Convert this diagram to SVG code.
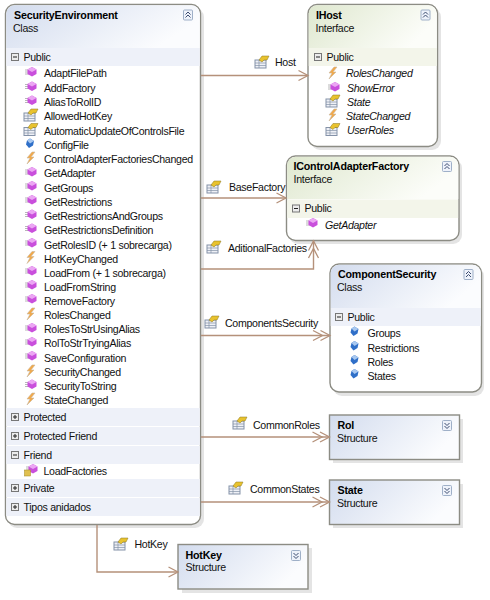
<svg xmlns="http://www.w3.org/2000/svg" width="490" height="600" viewBox="0 0 490 600">
<style>
text{font-family:"Liberation Sans",Arial,sans-serif;font-size:10.6px;letter-spacing:-.3px;fill:#111}
.t{font-family:"Liberation Sans",Arial,sans-serif;font-weight:bold;font-size:10.7px;letter-spacing:-.2px;fill:#000}
.i{font-style:italic}
.box{fill:#fff;stroke:#8c8c84;stroke-width:1.4}
.shadow{fill:#d8d8d8;opacity:.7}
.bandB{fill:#eef1f9}
.bandG{fill:#f3f5ea}
.c{fill:none;stroke:#b5917a;stroke-width:1.4}
.btn{fill:#eef2fa;stroke:#9fb0c8;stroke-width:1}
.chev{fill:none;stroke:#3c4c70;stroke-width:1}
.pm{fill:#ececec;stroke:#777;stroke-width:1}
.pmg{stroke:#222;stroke-width:1;fill:none}
.ah{fill:none;stroke:#b5917a;stroke-width:1.300}
</style>
<defs>
<linearGradient id="gb" x1="0" y1="0" x2="1" y2="0.35"><stop offset="0" stop-color="#d3dcee"/><stop offset="1" stop-color="#fbfcfe"/></linearGradient>
<linearGradient id="gg" x1="0" y1="0" x2="1" y2="0.35"><stop offset="0" stop-color="#dfe8cf"/><stop offset="1" stop-color="#fcfdf9"/></linearGradient>
<path id="arrowOne" class="ah" d="M -9.500 -5 L 0 0 L -9.500 5"/>
<path id="arrowTwo" class="ah" d="M -9.500 -5 L 0 0 L -9.500 5 M -17 -5 L -7.500 0 L -17 5"/>
<g id="m"><path d="M-7-2H-3M-7 0H-3M-7 2H-3" stroke="#b8b8b8" stroke-width="1"/><path d="M0-5L4.500-2.500V2L0 4.500L-4.500 2V-2.500Z" fill="#c94fdc"/><path d="M0-5L4.500-2.500L0 0L-4.500-2.500Z" fill="#eba6f3"/></g>
<g id="p"><rect x="-7" y="-2" width="11" height="8" fill="#eef0f6" stroke="#8492a8"/><path d="M-7 1H4M-7 3.500H4M-3-2V6" stroke="#8492a8" stroke-width=".7"/><path d="M-3-2L0-6H7L5-2H2L0 0Z" fill="#e8c22e" stroke="#8a7620" stroke-width=".5"/></g>
<g id="e"><path d="M2-6L-3 0H0L-3 6L4-1H1L5-6Z" fill="#f2a848" stroke="#c9b8a0" stroke-width=".6"/></g>
<g id="f"><path d="M0-5L4-2.500L3 2L-1 4.500L-4 1L-3-3Z" fill="#2f6fc8"/><path d="M0-5L4-2.500L0 0L-3-3Z" fill="#a8c8f0"/></g>
<g id="pm"><rect x="-3.500" y="-3.500" width="7" height="7" class="pm"/><path d="M-2 0H2" class="pmg"/></g>
<g id="pp"><rect x="-3.500" y="-3.500" width="7" height="7" class="pm"/><path d="M-2 0H2M0-2V2" class="pmg"/></g>
<g id="up"><rect x="-4.500" y="-5" width="9" height="10" rx="1" class="btn"/><path d="M-2.500-.5L0-3L2.500-.5M-2.500 2.500L0 0L2.500 2.500" class="chev"/></g>
<g id="dn"><rect x="-4.500" y="-5" width="9" height="10" rx="1" class="btn"/><path d="M-2.500-2.500L0 0L2.500-2.500M-2.500 .5L0 3L2.500 .5" class="chev"/></g>
</defs>
<rect width="490" height="600" fill="#fff"/>

<g id="SecurityEnvironment">
<rect class="shadow" x="8" y="8" width="196" height="520" rx="9"/>
<rect class="box" x="5.500" y="4.500" width="195" height="520" rx="9"/>
<path d="M6.200 48V13.500A8.500 8.500 0 0 1 14.500 5.200H191.500A8.500 8.500 0 0 1 199.800 13.500V48Z" fill="url(#gb)"/>
<text class="t" x="14" y="19">SecurityEnvironment</text><text x="13" y="31.500">Class</text>
<use href="#up" x="188" y="15"/>
<rect class="bandB" x="6.200" y="48" width="193.600" height="18"/><use href="#pm" x="15" y="57"/><text x="23.500" y="61">Public</text>
<use href="#m" x="32" y="72"/><text x="44" y="77">AdaptFilePath</text>
<use href="#m" x="32" y="86.500"/><text x="44" y="91.500">AddFactory</text>
<use href="#m" x="32" y="100.500"/><text x="44" y="106">AliasToRolID</text>
<use href="#p" x="31" y="115"/><text x="44" y="120">AllowedHotKey</text>
<use href="#p" x="31" y="129.500"/><text x="44" y="134.500">AutomaticUpdateOfControlsFile</text>
<use href="#f" x="30" y="143.500"/><text x="44" y="148.500">ConfigFile</text>
<use href="#e" x="30" y="158"/><text x="44" y="162.500">ControlAdapterFactoriesChanged</text>
<use href="#m" x="32" y="172"/><text x="44" y="177">GetAdapter</text>
<use href="#m" x="32" y="186"/><text x="44" y="191.500">GetGroups</text>
<use href="#m" x="32" y="200"/><text x="44" y="205.500">GetRestrictions</text>
<use href="#m" x="32" y="214.500"/><text x="44" y="219.500">GetRestrictionsAndGroups</text>
<use href="#m" x="32" y="228.500"/><text x="44" y="233.500">GetRestrictionsDefinition</text>
<use href="#m" x="32" y="243"/><text x="44" y="248.500">GetRolesID (+ 1 sobrecarga)</text>
<use href="#e" x="30" y="257.500"/><text x="44" y="262.500">HotKeyChanged</text>
<use href="#m" x="32" y="271"/><text x="44" y="276.500">LoadFrom (+ 1 sobrecarga)</text>
<use href="#m" x="32" y="285"/><text x="44" y="290.500">LoadFromString</text>
<use href="#m" x="32" y="299"/><text x="44" y="304.500">RemoveFactory</text>
<use href="#e" x="30" y="314"/><text x="44" y="319">RolesChanged</text>
<use href="#m" x="32" y="328"/><text x="44" y="333">RolesToStrUsingAlias</text>
<use href="#m" x="32" y="342"/><text x="44" y="347">RolToStrTryingAlias</text>
<use href="#m" x="32" y="356"/><text x="44" y="361.500">SaveConfiguration</text>
<use href="#e" x="30" y="371"/><text x="44" y="375.500">SecurityChanged</text>
<use href="#m" x="32" y="384.500"/><text x="44" y="390">SecurityToString</text>
<use href="#e" x="30" y="399"/><text x="44" y="404">StateChanged</text>
<rect class="bandB" x="6.200" y="408" width="193.600" height="18"/><use href="#pp" x="15" y="417"/><text x="23.500" y="420.500">Protected</text>
<rect class="bandB" x="6.200" y="427" width="193.600" height="18"/><use href="#pp" x="15" y="436"/><text x="23.500" y="439.500">Protected Friend</text>
<rect class="bandB" x="6.200" y="446" width="193.600" height="18"/><use href="#pm" x="15" y="455"/><text x="23.500" y="458.500">Friend</text>
<use href="#m" x="33" y="469"/><rect x="24.500" y="470" width="6" height="6" fill="#e0c050" stroke="#a08820" stroke-width=".5"/><text x="43.500" y="474.500">LoadFactories</text>
<rect class="bandB" x="6.200" y="479" width="193.600" height="18"/><use href="#pp" x="15" y="488"/><text x="23.500" y="491.500">Private</text>
<rect class="bandB" x="6.200" y="498" width="193.600" height="18"/><use href="#pp" x="15" y="507"/><text x="23.500" y="510.500">Tipos anidados</text>
</g>

<g id="IHost">
<rect class="shadow" x="311" y="8" width="130" height="142" rx="9"/>
<rect class="box" x="308" y="4.500" width="129.500" height="142" rx="9"/>
<path d="M308.700 48V13.500A8.500 8.500 0 0 1 317 5.200H428.500A8.500 8.500 0 0 1 436.800 13.500V48Z" fill="url(#gg)"/>
<text class="t" x="316" y="19">IHost</text><text x="315.500" y="31.500">Interface</text>
<use href="#up" x="425.500" y="15"/>
<rect class="bandG" x="308.700" y="48" width="128.100" height="18"/><use href="#pm" x="318" y="57"/><text x="326.500" y="61">Public</text>
<use href="#e" x="332" y="73"/><text class="i" x="346" y="77">RolesChanged</text>
<use href="#m" x="335" y="87"/><text class="i" x="347" y="92">ShowError</text>
<use href="#p" x="333" y="101"/><text class="i" x="347" y="106">State</text>
<use href="#e" x="332" y="115"/><text class="i" x="346" y="119.500">StateChanged</text>
<use href="#p" x="333" y="129.500"/><text class="i" x="347" y="134">UserRoles</text>
</g>

<g id="IControlAdapterFactory">
<rect class="shadow" x="289" y="159" width="173" height="85" rx="9"/>
<rect class="box" x="286.500" y="156" width="172.500" height="84.500" rx="9"/>
<path d="M287.200 199V165A8.500 8.500 0 0 1 295.500 156.700H450A8.500 8.500 0 0 1 458.300 165V199Z" fill="url(#gg)"/>
<text class="t" x="293.500" y="170">IControlAdapterFactory</text><text x="293.500" y="182.500">Interface</text>
<use href="#up" x="447" y="166.500"/>
<rect class="bandG" x="287.200" y="199.500" width="170.900" height="18.500"/><use href="#pm" x="296" y="208.500"/><text x="304.500" y="212">Public</text>
<use href="#m" x="313" y="223"/><text class="i" x="325" y="229">GetAdapter</text>
</g>

<g id="ComponentSecurity">
<rect class="shadow" x="333" y="267" width="151" height="129" rx="9"/>
<rect class="box" x="330" y="264" width="151.500" height="128" rx="9"/>
<path d="M330.700 308V273A8.500 8.500 0 0 1 339 264.700H472.500A8.500 8.500 0 0 1 480.800 273V308Z" fill="url(#gb)"/>
<text class="t" x="338" y="278">ComponentSecurity</text><text x="337" y="290.500">Class</text>
<use href="#up" x="468.500" y="274.500"/>
<rect class="bandB" x="330.700" y="308" width="150.100" height="18"/><use href="#pm" x="339" y="317"/><text x="347.500" y="320.500">Public</text>
<use href="#f" x="354.500" y="331.500"/><text x="367.500" y="336.500">Groups</text>
<use href="#f" x="354.500" y="346"/><text x="367.500" y="351.500">Restrictions</text>
<use href="#f" x="354.500" y="360"/><text x="367.500" y="365.500">Roles</text>
<use href="#f" x="354.500" y="374"/><text x="367.500" y="379.500">States</text>
</g>

<g id="Rol">
<rect class="shadow" x="333" y="419" width="130" height="44"/>
<rect x="329.500" y="415" width="130" height="44.500" fill="url(#gb)" stroke="#8c8c84" stroke-width="1.400"/>
<text class="t" x="337.500" y="429">Rol</text><text x="337" y="441.500">Structure</text>
<use href="#dn" x="447" y="425.500"/>
</g>

<g id="State">
<rect class="shadow" x="333" y="484" width="130" height="44"/>
<rect x="329.500" y="480" width="130" height="44.500" fill="url(#gb)" stroke="#8c8c84" stroke-width="1.400"/>
<text class="t" x="337.500" y="494">State</text><text x="337" y="506.500">Structure</text>
<use href="#dn" x="447" y="490.500"/>
</g>

<g id="HotKey">
<rect class="shadow" x="182" y="548" width="130" height="45"/>
<rect x="178" y="544.500" width="130" height="44.500" fill="url(#gb)" stroke="#8c8c84" stroke-width="1.400"/>
<text class="t" x="185.500" y="559">HotKey</text><text x="185.500" y="571">Structure</text>
<use href="#dn" x="296" y="555.500"/>
</g>

<g id="connectors">
<path class="c" d="M201 75.500H308"/><use href="#arrowOne" x="308" y="75.500"/>
<path class="c" d="M201 198H286"/><use href="#arrowOne" x="286" y="198"/>
<path class="c" d="M201 269H313.500V240.500"/><use href="#arrowTwo" transform="translate(313.500 241) rotate(-90)"/>
<path class="c" d="M201 335.500H330"/><use href="#arrowTwo" x="330" y="335.500"/>
<path class="c" d="M201 437H329.500"/><use href="#arrowTwo" x="329.500" y="437"/>
<path class="c" d="M201 502H329.500"/><use href="#arrowTwo" x="329.500" y="502"/>
<path class="c" d="M97 525V572H178"/><use href="#arrowOne" x="178" y="572"/>
<use href="#p" x="262" y="62"/><text x="275" y="66">Host</text>
<use href="#p" x="214" y="187"/><text x="229" y="191">BaseFactory</text>
<use href="#p" x="214" y="247"/><text x="228" y="251.500">AditionalFactories</text>
<use href="#p" x="212" y="322"/><text x="225" y="326.500">ComponentsSecurity</text>
<use href="#p" x="240" y="423"/><text x="253" y="428.500">CommonRoles</text>
<use href="#p" x="236" y="488"/><text x="250" y="492.500">CommonStates</text>
<use href="#p" x="121" y="544"/><text x="134.500" y="548">HotKey</text>
</g>
</svg>
